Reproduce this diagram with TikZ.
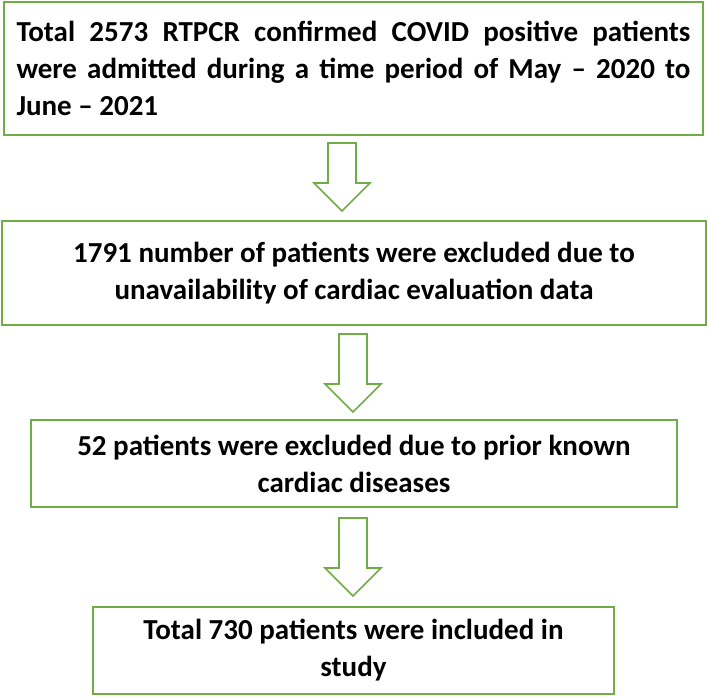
\documentclass[tikz,border=0pt]{standalone}
\usepackage{fontspec}
\setmainfont{Carlito}
\usepackage{xcolor}
\usetikzlibrary{calc}
\definecolor{boxgreen}{RGB}{112,173,71}

\begin{document}
\begin{tikzpicture}[x=1pt,y=-1pt,
  flowbox/.style={draw=boxgreen,line width=2pt,inner sep=0pt,font=\fontsize{29}{37}\selectfont\bfseries},
  downarrow/.style={draw=boxgreen,line width=1.6pt,line join=miter,
    to path={let \p1=(\tikztostart), \p2=(\tikztotarget) in
      (\x1-14pt,\y1) -- (\x1+14pt,\y1) -- (\x1+14pt,\y2+28pt) -- (\x1+28pt,\y2+28pt)
      -- (\x1,\y2) -- (\x1-28pt,\y2+28pt) -- (\x1-14pt,\y2+28pt) -- cycle}}]
\useasboundingbox (0,0) rectangle (708,696);
\node[flowbox,minimum width=699,minimum height=133,text width=674,align=justify] (total) at (353.5,68.5)
  {Total 2573 RTPCR confirmed COVID positive patients\linebreak were admitted during a time period of May -- 2020 to\linebreak June -- 2021};
\node[flowbox,minimum width=704,minimum height=104,align=center] (excl1) at (354,273)
  {1791 number of patients were excluded due to\\ unavailability of cardiac evaluation data};
\node[flowbox,minimum width=646,minimum height=87,align=center] (excl2) at (354,463.5)
  {52 patients were excluded due to prior known\\ cardiac diseases};
\node[flowbox,minimum width=521,minimum height=87,align=center] (incl) at (353.5,650.5)
  {Total 730 patients were included in\\ study};
% hollow block arrows between the boxes
\draw[downarrow] ([xshift=-11.5pt,yshift=-7pt]total.south) to ([xshift=-11.5pt,yshift=9pt]excl1.north);
\draw[downarrow] ([xshift=-1pt,yshift=-8pt]excl1.south) to ([xshift=-1pt,yshift=7pt]excl2.north);
\draw[downarrow] ([xshift=-1pt,yshift=-10pt]excl2.south) to ([xshift=-1pt,yshift=10pt]incl.north);
\end{tikzpicture}
\end{document}
